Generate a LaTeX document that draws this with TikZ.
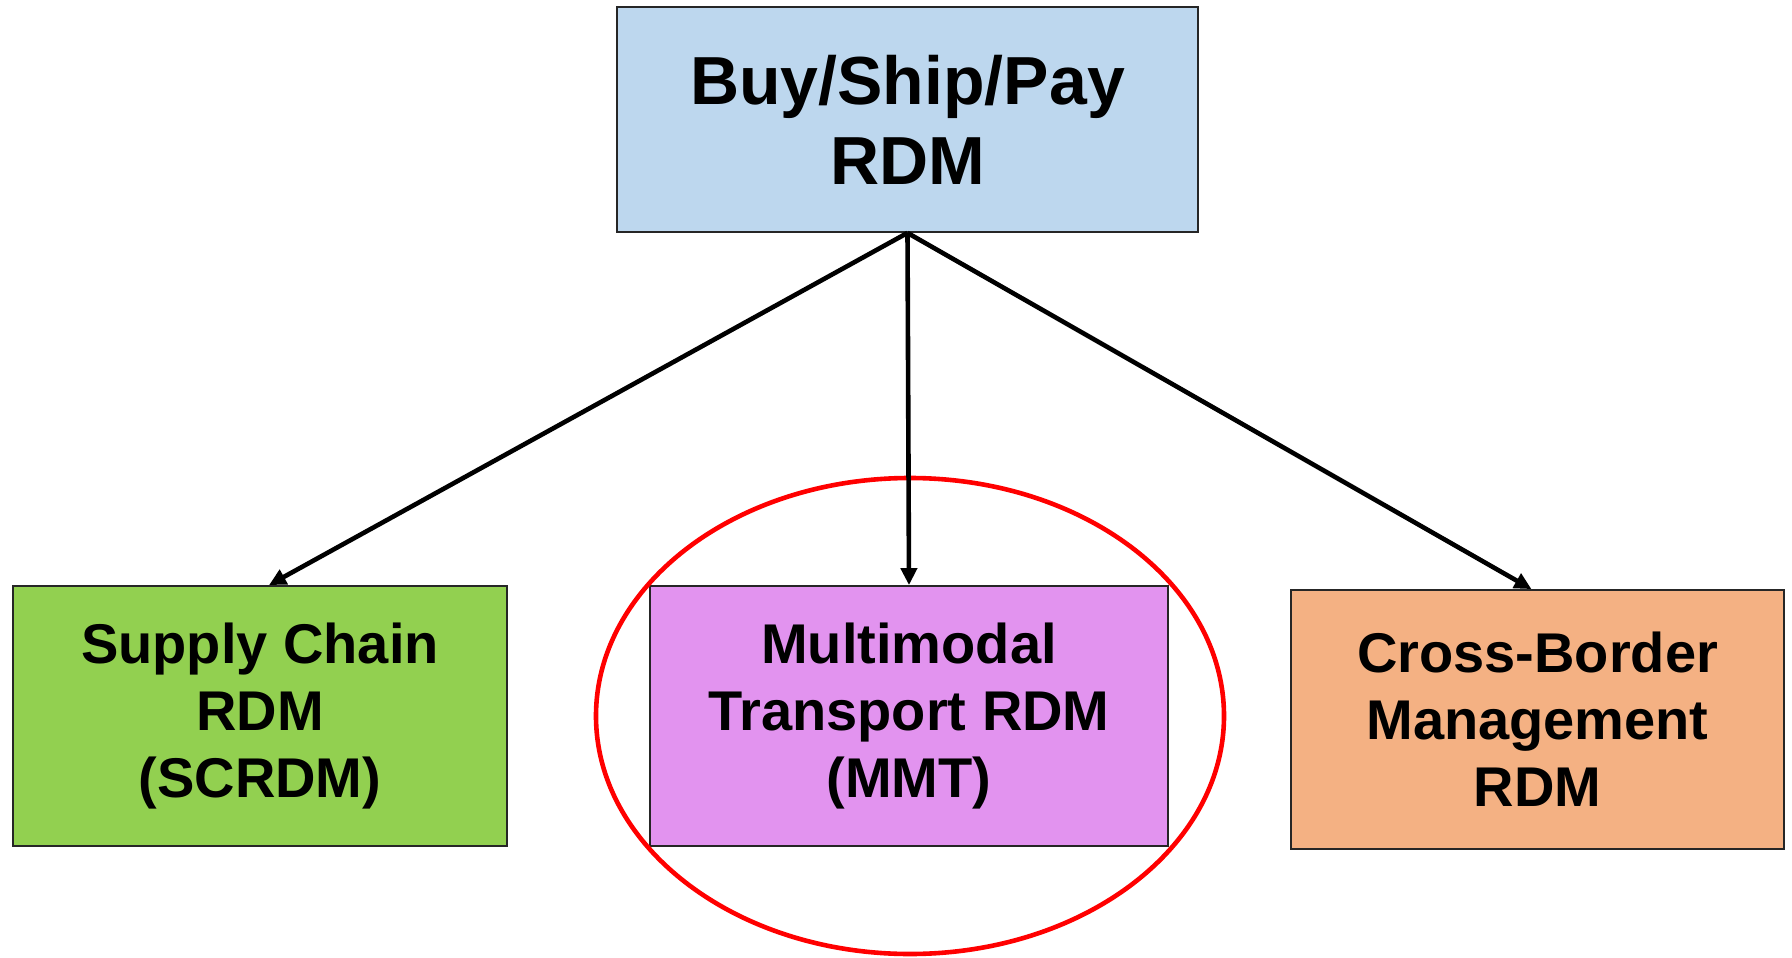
\documentclass[tikz,border=0pt]{standalone}
\usepackage{fontspec}
\setmainfont{Liberation Sans}
\usetikzlibrary{arrows.meta}
\definecolor{topblue}{HTML}{BDD7EE}
\definecolor{leafgreen}{HTML}{92D050}
\definecolor{leafpurple}{HTML}{E293EF}
\definecolor{leaforange}{HTML}{F4B183}
\begin{document}
\begin{tikzpicture}[x=1pt,y=-1pt,
  box/.style={draw=black!85, line width=1.8pt, inner sep=0pt, align=center, font=\bfseries\fontsize{56}{67}\selectfont},
  link/.style={draw=black, line width=4.6pt, -{Triangle[length=17pt,width=16pt]}},
  ring/.style={draw=red, line width=4.6pt}]
\useasboundingbox (0,0) rectangle (1792,958);
\node[box, fill=topblue, minimum width=581pt, minimum height=225pt,
      font=\bfseries\fontsize{68}{80}\selectfont] (top) at (907.5,119.5) {Buy/Ship/Pay\\RDM};
\node[box, fill=leafgreen, minimum width=494pt, minimum height=260pt] (scm) at (260,716) {Supply Chain\\RDM\\(SCRDM)};
\node[box, fill=leafpurple, minimum width=518pt, minimum height=260pt] (mmt) at (909,716) {Multimodal\\Transport RDM\\(MMT)};
\node[box, fill=leaforange, minimum width=493pt, minimum height=259pt] (cbm) at (1537.5,719.5) {Cross-Border\\Management\\RDM};
\draw[ring] (910,716) ellipse [x radius=314, y radius=238];
\draw[link] (top.south) -- ([xshift=9pt]scm.north);
\draw[link] (top.south) -- (mmt.north);
\draw[link] (top.south) -- ([xshift=-6pt]cbm.north);
\end{tikzpicture}
\end{document}
